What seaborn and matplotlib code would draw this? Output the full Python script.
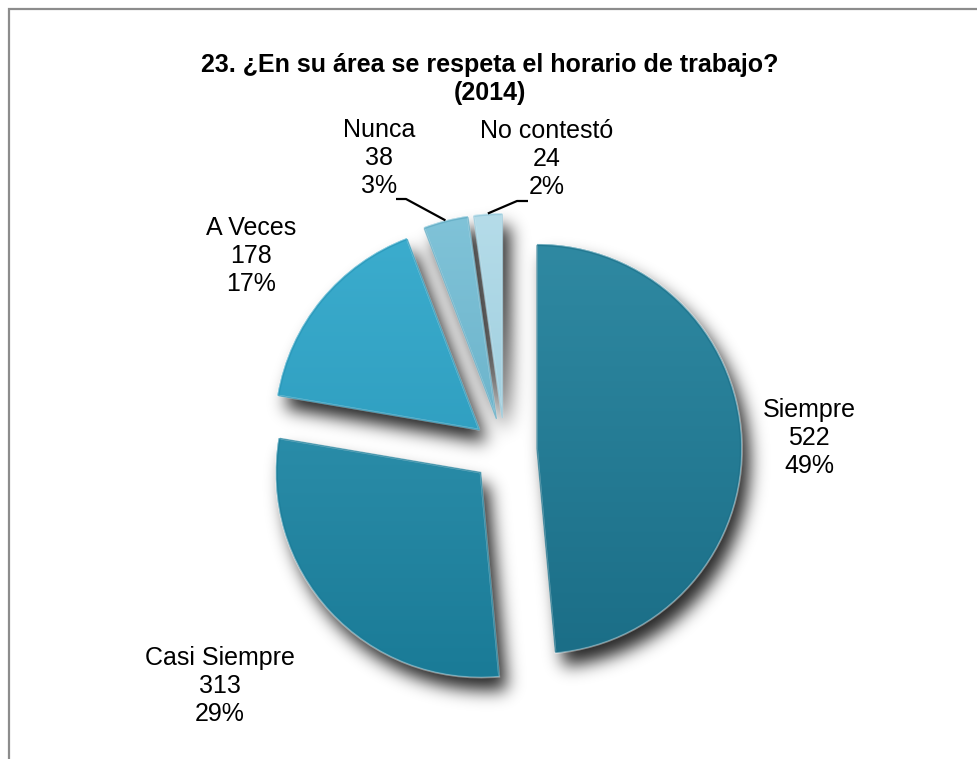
import numpy as np
import matplotlib
matplotlib.use("Agg")
import matplotlib.pyplot as plt
import seaborn as sns
from matplotlib import font_manager
from matplotlib.patches import Wedge, Rectangle
from matplotlib.colors import LinearSegmentedColormap

# Survey answers, clockwise from 12 o'clock
categories = ["Siempre", "Casi Siempre", "A Veces", "Nunca", "No contestó"]
counts = [522, 313, 178, 38, 24]
percent_labels = ["49%", "29%", "17%", "3%", "2%"]
title_text = "23. ¿En su área se respeta el horario de trabajo?\n(2014)"

# Slice shading: lighter at the top, deeper at the bottom
top_colors = ["#2f89a2", "#3598b4", "#3cadce", "#80c3d8", "#b5dce9"]
bottom_colors = ["#1b6e87", "#1a7b97", "#2593b5", "#5aa6bf", "#8cc3d6"]

W, H = 977, 759
sns.set_theme(style="white")
plt.rcParams["font.family"] = ["Liberation Sans", "DejaVu Sans"]
plt.rcParams["text.color"] = "black"

installed = {f.name for f in font_manager.fontManager.ttflist}
if "Liberation Sans Narrow" in installed:
    title_family, title_size = ["Liberation Sans Narrow", "Liberation Sans"], 20
else:
    title_family, title_size = ["Liberation Sans", "DejaVu Sans"], 18

fig = plt.figure(figsize=(W / 100, H / 100), dpi=100)
ax = fig.add_axes([0, 0, 1, 1])

radius = 205
center = (504.5, H - 450.4)
explode = 32.5

wedges, _ = ax.pie(
    counts,
    startangle=90,
    counterclock=False,
    radius=radius,
    center=center,
    explode=[explode] * len(counts),
    colors=top_colors,
    wedgeprops=dict(linewidth=0, zorder=2),
)


def blurred_shadow(slices, dx, dy, sigma):
    """Rasterise the offset slices in black and blur them into a soft mask."""
    f2 = plt.figure(figsize=(W / 100, H / 100), dpi=100)
    a2 = f2.add_axes([0, 0, 1, 1])
    for w in slices:
        cx, cy = w.center
        a2.add_patch(Wedge((cx + dx, cy + dy), w.r, w.theta1, w.theta2,
                           facecolor="black", lw=0))
    a2.set_xlim(0, W)
    a2.set_ylim(0, H)
    a2.axis("off")
    f2.canvas.draw()
    rgba = np.asarray(f2.canvas.buffer_rgba()).astype(float)
    plt.close(f2)
    mask = 1.0 - rgba[..., 0] / 255.0
    k = np.arange(-int(3 * sigma), int(3 * sigma) + 1)
    kern = np.exp(-0.5 * (k / sigma) ** 2)
    kern /= kern.sum()
    mask = np.apply_along_axis(lambda r: np.convolve(r, kern, "same"), 1, mask)
    mask = np.apply_along_axis(lambda c: np.convolve(c, kern, "same"), 0, mask)
    return mask


shadow = blurred_shadow(wedges, 8, -13, 8.5)
shadow_rgba = np.zeros(shadow.shape + (4,))
shadow_rgba[..., 3] = np.clip(shadow * 0.85, 0, 1)
ax.imshow(shadow_rgba, extent=[0, W, 0, H], origin="upper", aspect="auto",
          interpolation="bilinear", zorder=1)

# vertical gradient clipped to each slice, plus a light bevel edge
grad = np.linspace(0, 1, 256).reshape(-1, 1)
for w, c0, c1 in zip(wedges, top_colors, bottom_colors):
    cx, cy = w.center
    cmap = LinearSegmentedColormap.from_list("slice", [c1, c0])
    im = ax.imshow(grad, cmap=cmap, origin="lower", aspect="auto",
                   extent=[cx - w.r, cx + w.r, cy - w.r, cy + w.r],
                   interpolation="bilinear", zorder=3)
    im.set_clip_path(w)
    ax.add_patch(Wedge((cx, cy), w.r, w.theta1, w.theta2, facecolor="none",
                       edgecolor="white", lw=1.4, alpha=0.4, zorder=4))
    ax.add_patch(Wedge((cx, cy), w.r - 1.5, w.theta1, w.theta2, facecolor="none",
                       edgecolor=c1, lw=1.0, alpha=0.6, zorder=4))


def arc_mid(w):
    th = np.deg2rad((w.theta1 + w.theta2) / 2)
    return w.center[0] + w.r * np.cos(th), w.center[1] + w.r * np.sin(th)


label_pos = [(809, 438), (220, 686), (251, 256), (379, 158), (547, 159)]
for name, n, pct, (lx, ly) in zip(categories, counts, percent_labels, label_pos):
    ax.text(lx, H - ly, f"{name}\n{n}\n{pct}", ha="center", va="center",
            multialignment="center", fontsize=18, linespacing=1.2,
            color="black", zorder=6)

# leader lines for the two thin slices
leaders = {3: [(396, 199), (406, 199)], 4: [(528, 201), (517, 201)]}
for idx, pts in leaders.items():
    mx, my = arc_mid(wedges[idx])
    xs = [p[0] for p in pts] + [mx]
    ys = [H - p[1] for p in pts] + [my]
    ax.plot(xs, ys, color="black", lw=1.6, zorder=6, solid_capstyle="butt")

ax.text(490, H - 79, title_text, ha="center", va="center", fontsize=title_size,
        family=title_family, fontweight="bold", linespacing=1.25,
        color="black", zorder=6)

# chart-area frame (only the left and top edges fall inside the image)
ax.add_patch(Rectangle((8.5, -20), W + 40, H - 8.5 + 20, facecolor="none",
                       edgecolor="#8c8c8c", lw=1.6, zorder=0))

ax.set_xlim(0, W)
ax.set_ylim(0, H)
ax.set_aspect("equal")
ax.axis("off")

fig.savefig("out.png", dpi=100, facecolor="white")
